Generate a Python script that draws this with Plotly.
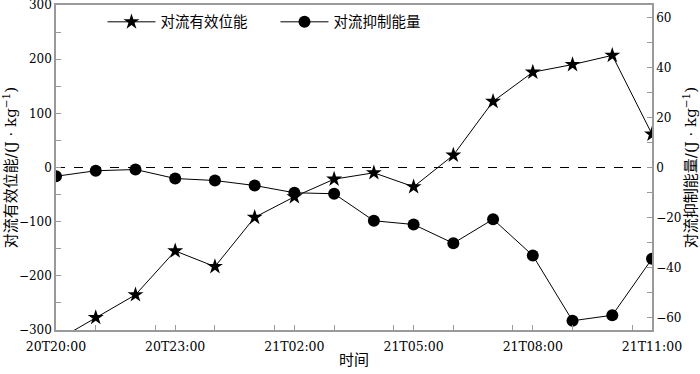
import plotly.graph_objects as go

times = ["20T20:00", "20T21:00", "20T22:00", "20T23:00", "21T00:00", "21T01:00",
         "21T02:00", "21T03:00", "21T04:00", "21T05:00", "21T06:00", "21T07:00",
         "21T08:00", "21T09:00", "21T10:00", "21T11:00"]
cape = [-320, -277, -235, -154, -183, -92, -54, -21.5, -9.8, -35.6, 22.7, 122, 176, 190, 207, 61.5]
cin = [-3.5, -1.3, -0.8, -4.4, -5.2, -7.2, -10.1, -10.5, -21.3, -22.8, -30.3, -20.7, -35.2, -61.3, -59.1, -36.5]

cape_name = "对流有效位能"
cin_name = "对流抑制能量"
left_title = "对流有效位能/(J · kg<sup>−1</sup>)"
right_title = "对流抑制能量/(J · kg<sup>−1</sup>)"
x_title = "时间"


def to_dt(s):
    return f"2021-07-{s[:2]} {s[3:5]}:{s[6:8]}"


xs = [to_dt(t) for t in times]

FONT = "DejaVu Serif, Noto Sans CJK SC"
GRAY = "#9a9a9a"

fig = go.Figure()
fig.add_trace(go.Scatter(
    x=xs, y=cape, name=cape_name, mode="lines+markers",
    line=dict(color="black", width=1),
    marker=dict(symbol="star", size=12, color="black"),
    yaxis="y"))
fig.add_trace(go.Scatter(
    x=xs, y=cin, name=cin_name, mode="lines+markers",
    line=dict(color="black", width=1),
    marker=dict(symbol="circle", size=12, color="black"),
    yaxis="y2"))

fig.add_hline(y=0, line=dict(color="black", width=1, dash="dash"), layer="below")

fig.update_layout(
    width=700, height=374,
    margin=dict(l=56, r=48, t=5, b=44),
    paper_bgcolor="white", plot_bgcolor="white",
    font=dict(family=FONT, size=14, color="black"),
    showlegend=True,
    legend=dict(orientation="h", x=0.078, y=0.948, xanchor="left", yanchor="middle",
                bgcolor="rgba(0,0,0,0)", font=dict(size=14.5), itemwidth=48,
                entrywidth=110, entrywidthmode="pixels"),
    xaxis=dict(
        type="date", range=[xs[0], xs[-1]], automargin=False,
        tick0=xs[0], dtick=3 * 3600 * 1000, tickformat="%dT%H:%M",
        tickfont=dict(size=12.5), ticklabelstandoff=4,
        ticks="inside", ticklen=5, tickcolor=GRAY,
        minor=dict(dtick=1.5 * 3600 * 1000, ticks="inside", ticklen=5, tickcolor=GRAY),
        showline=True, linecolor=GRAY, linewidth=1.5, mirror=True,
        showgrid=False, zeroline=False,
        title=dict(text=x_title, font=dict(size=15), standoff=2),
    ),
    yaxis=dict(
        range=[-300, 300], dtick=100, ticks="inside", ticklen=5, tickcolor=GRAY,
        automargin=False, ticklabeloverflow="allow",
        tickfont=dict(size=12),
        minor=dict(dtick=50, ticks="inside", ticklen=5, tickcolor=GRAY),
        showline=True, linecolor=GRAY, linewidth=1.5,
        showgrid=False, zeroline=False, tickformat="d",
        title=dict(text=left_title, font=dict(size=15)),
    ),
    yaxis2=dict(
        range=[-65, 65], overlaying="y", side="right", tickvals=[-60, -40, -20, 0, 20, 40, 60],
        ticks="inside", ticklen=5, tickcolor=GRAY, automargin=False,
        tickfont=dict(size=12),
        minor=dict(dtick=10, tick0=0, ticks="inside", ticklen=5, tickcolor=GRAY),
        showline=True, linecolor=GRAY, linewidth=1.5,
        showgrid=False, zeroline=False,
        title=dict(text=right_title, font=dict(size=15)),
    ),
)

fig.write_html("out.html", config={"displayModeBar": False},
               post_script="document.body.style.margin='0';")
